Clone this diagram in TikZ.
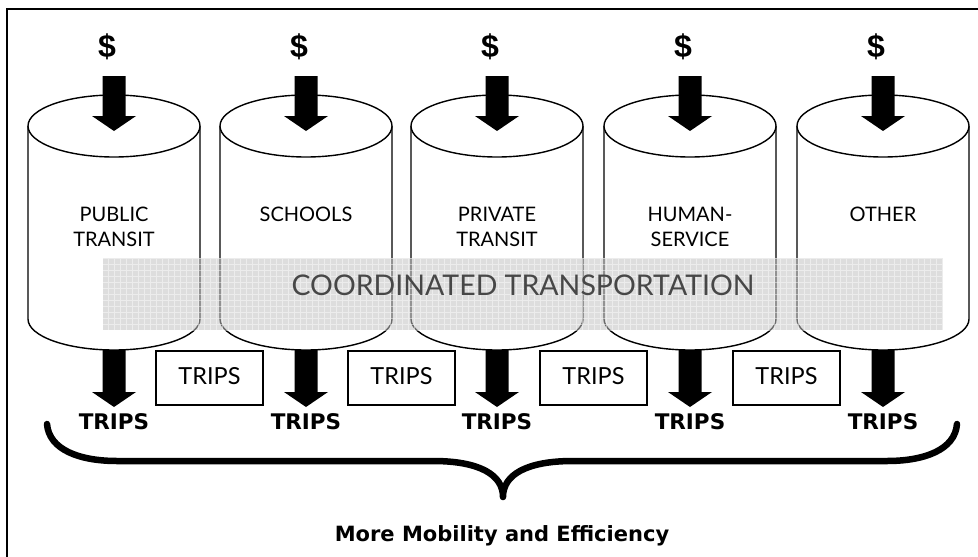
\documentclass[tikz,border=0pt]{standalone}
\usepackage{fontspec}
\setmainfont{Lato}
\newfontfamily\headfont{DejaVu Sans}
\newfontfamily\moneyfont{Liberation Sans}
\begin{document}
\begin{tikzpicture}[x=1pt,y=-1pt,
  cylline/.style={line width=1.4pt, fill=white},
  band/.style={fill=black!24, fill opacity=0.55},
  bandgrid/.style={draw=white, line width=0.7pt, opacity=0.45},
  bandtext/.style={text=black!72, font=\fontsize{28.5}{32}\selectfont, anchor=base, inner sep=0},
  cyllabel/.style={font=\fontsize{20}{25}\selectfont, align=center, anchor=north, inner sep=0},
  dollar/.style={font=\moneyfont\bfseries\fontsize{32}{36}\selectfont, anchor=base, inner sep=0},
  tripsout/.style={font=\headfont\bfseries\fontsize{21.5}{24}\selectfont, anchor=base, inner sep=0},
  tripbox/.style={draw, line width=1.3pt, minimum width=107pt, minimum height=54pt, inner sep=0, text depth=5pt, font=\fontsize{23.5}{26}\selectfont},
  bracepath/.style={line width=6.5pt, line cap=round, line join=round},
  frame/.style={line width=2pt}
]
\useasboundingbox (0,0) rectangle (978,557);
\clip (0,0) rectangle (978,557);
\draw[frame] (7,9) rectangle (990,570);

% funding pools drawn as cylinders
\foreach \cx in {114,306,497,690,883} {
  \draw[cylline] (\cx-86,126) -- (\cx-86,319)
    arc[start angle=180, end angle=360, x radius=86pt, y radius=31pt]
    -- (\cx+86,126);
  \draw[cylline] (\cx,126) ellipse [x radius=86pt, y radius=31pt];
}

% shaded coordination band across all pools, with a fine screen texture
\fill[band] (103,258) rectangle (943,330);
\begin{scope}
  \clip (103,258) rectangle (943,330);
  \draw[bandgrid] (103,258) grid[step=6pt] (943,330);
\end{scope}
\node[bandtext] (coord) at (523,295) {COORDINATED TRANSPORTATION};

% pool labels
\node[cyllabel] (lab1) at (114,207) {PUBLIC\\TRANSIT};
\node[cyllabel] (lab2) at (306,207) {SCHOOLS};
\node[cyllabel] (lab3) at (497,207) {PRIVATE\\TRANSIT};
\node[cyllabel] (lab4) at (690,207) {HUMAN-\\SERVICE};
\node[cyllabel] (lab5) at (883,207) {OTHER};

% money in, trips out
\foreach \cx/\id in {114/1,306/2,497/3,690/4,883/5} {
  \node[dollar] (d\id) at (\cx-7,57) {\$};
  \fill (\cx-11.5,76) -- (\cx+11.5,76) -- (\cx+11.5,116) -- (\cx+22,116)
    -- (\cx,131) -- (\cx-22,116) -- (\cx-11.5,116) -- cycle;
  \fill (\cx-11.5,350) -- (\cx+11.5,350) -- (\cx+11.5,392) -- (\cx+22,392)
    -- (\cx,407) -- (\cx-22,392) -- (\cx-11.5,392) -- cycle;
  \node[tripsout] (t\id) at (\cx,429) {TRIPS};
}

% shared trips between pools
\node[tripbox] (b1) at (209.5,378) {TRIPS};
\node[tripbox] (b2) at (401.5,378) {TRIPS};
\node[tripbox] (b3) at (593.5,378) {TRIPS};
\node[tripbox] (b4) at (786.5,378) {TRIPS};

% brace gathering all trips
\draw[bracepath] (47,424) .. controls (49,450) and (80,461) .. (117,461)
  -- (433,461) .. controls (480,461) and (503,475) .. (503,497)
  .. controls (503,475) and (526,461) .. (573,461)
  -- (887,461) .. controls (924,461) and (955,450) .. (957,424);

\node[tripsout, font=\headfont\bfseries\fontsize{21}{24}\selectfont] (result) at (502,541) {More Mobility and Efficiency};
\end{tikzpicture}
\end{document}
